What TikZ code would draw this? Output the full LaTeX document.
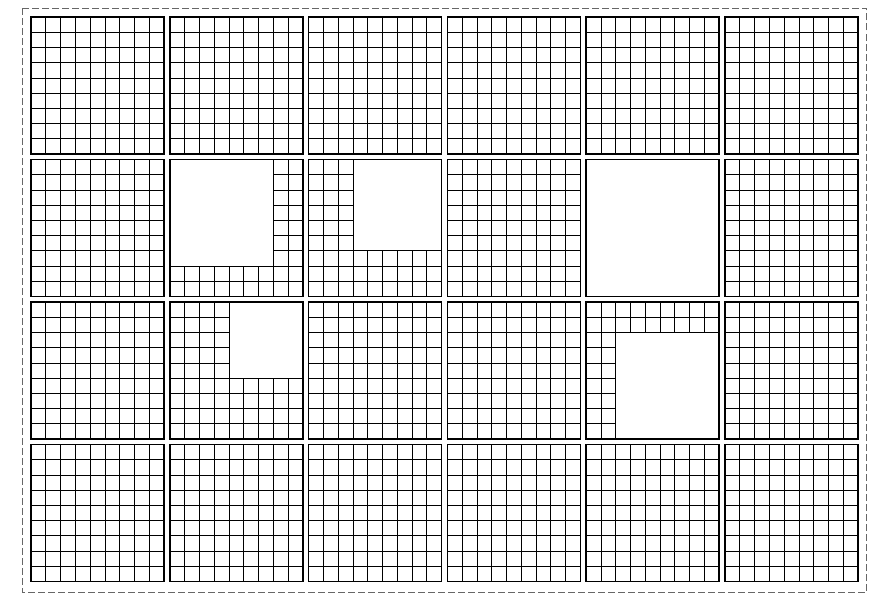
\documentclass[tikz,border=0pt]{standalone}
\begin{document}
\begin{tikzpicture}[x=1pt,y=-1pt,
  gridline/.style={line width=0.75pt,black},
  panelframe/.style={line width=1.5pt,black},
  outerframe/.style={dash pattern=on 7pt off 3pt,black!60,line width=1pt},
  holefill/.style={fill=white,draw=black,line width=0.75pt}]
\useasboundingbox (0,0) rectangle (895,605);
\def\pw{133}\def\ph{137}
\draw[outerframe] (22,8) rectangle (866.5,592);
% grids
\foreach \c in {0,...,5}{
  \foreach \r in {0,...,3}{
    \pgfmathsetmacro\xa{31+138.8*\c}
    \pgfmathsetmacro\ya{17+142.5*\r}
    \foreach \i in {1,...,8}{
      \draw[gridline] (\xa+\i*\pw/9,\ya) -- (\xa+\i*\pw/9,\ya+\ph);
      \draw[gridline] (\xa,\ya+\i*\ph/9) -- (\xa+\pw,\ya+\i*\ph/9);
    }
  }
}
% holes: column, row, first cell col, first cell row, last col (excl), last row (excl)
\foreach \c/\r/\ia/\ja/\ib/\jb in {1/1/0/0/7/7, 2/1/3/0/9/6, 4/1/0/0/9/9, 1/2/4/0/9/5, 4/2/2/2/9/9}{
  \pgfmathsetmacro\xa{31+138.8*\c}
  \pgfmathsetmacro\ya{17+142.5*\r}
  \filldraw[holefill] (\xa+\ia*\pw/9,\ya+\ja*\ph/9) rectangle (\xa+\ib*\pw/9,\ya+\jb*\ph/9);
}
% panel frames
\foreach \c in {0,...,5}{
  \foreach \r in {0,...,3}{
    \pgfmathsetmacro\xa{31+138.8*\c}
    \pgfmathsetmacro\ya{17+142.5*\r}
    \draw[panelframe] (\xa,\ya) rectangle (\xa+\pw,\ya+\ph);
  }
}
\end{tikzpicture}
\end{document}
